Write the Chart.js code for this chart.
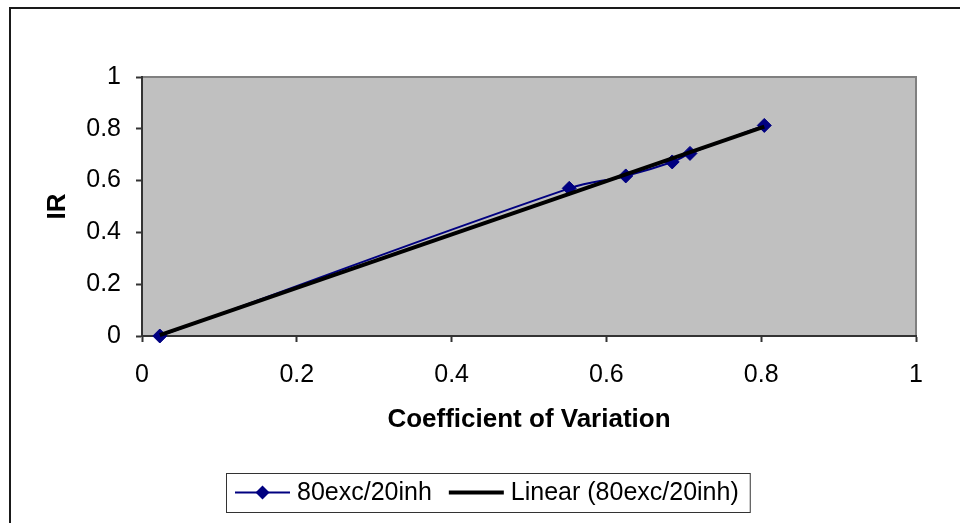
<!DOCTYPE html>
<html>
<head>
<meta charset="utf-8">
<script src="https://cdn.jsdelivr.net/npm/chart.js@4/dist/chart.umd.min.js"></script>
<style>
  html, body { margin: 0; padding: 0; background: #fff; }
  #wrap { width: 960px; height: 523px; position: relative; }
</style>
</head>
<body>
<div id="wrap"><canvas id="c" width="960" height="523"></canvas></div>
<script>
// Series data
const seriesName = '80exc/20inh';
const trendName = 'Linear (80exc/20inh)';
const cvValues = [0.023, 0.552, 0.625, 0.685, 0.708, 0.804];
const irValues = [0, 0.570, 0.618, 0.672, 0.705, 0.813];
// Axis ticks and titles
const xTicks = [0, 0.2, 0.4, 0.6, 0.8, 1];
const yTicks = [0, 0.2, 0.4, 0.6, 0.8, 1];
const xTitle = 'Coefficient of Variation';
const yTitle = 'IR';

const FONT = '"Liberation Sans", Arial, Helvetica, sans-serif';
const SERIES_COLOR = '#000080';
const TREND_COLOR = '#000000';

// Least-squares linear trendline over the series
function linearFit(xs, ys) {
  const n = xs.length;
  const mx = xs.reduce((a, b) => a + b, 0) / n;
  const my = ys.reduce((a, b) => a + b, 0) / n;
  let sxy = 0, sxx = 0;
  for (let i = 0; i < n; i++) {
    sxy += (xs[i] - mx) * (ys[i] - my);
    sxx += (xs[i] - mx) * (xs[i] - mx);
  }
  const slope = sxy / sxx;
  return { slope, intercept: my - slope * mx };
}
const fit = linearFit(cvValues, irValues);
const xMin = Math.min(...cvValues), xMax = Math.max(...cvValues);
const trendPoints = [xMin, xMax].map(x => ({ x, y: fit.intercept + fit.slope * x }));
const seriesPoints = cvValues.map((x, i) => ({ x, y: irValues[i] }));

// Page frame, plot-area fill and border
const framePlugin = {
  id: 'frame',
  beforeDraw(chart) {
    const { ctx, chartArea: a } = chart;
    ctx.save();
    ctx.fillStyle = '#ffffff';
    ctx.fillRect(0, 0, chart.width, chart.height);
    ctx.strokeStyle = '#1a1a1a';
    ctx.lineWidth = 2;
    ctx.strokeRect(10, 8, chart.width + 10, chart.height + 10);
    ctx.fillStyle = '#c0c0c0';
    ctx.fillRect(a.left, a.top, a.right - a.left, a.bottom - a.top);
    ctx.strokeStyle = '#808080';
    ctx.lineWidth = 2;
    ctx.beginPath();
    ctx.moveTo(a.left, a.top);
    ctx.lineTo(a.right, a.top);
    ctx.lineTo(a.right, a.bottom);
    ctx.stroke();
    ctx.restore();
  }
};

// Boxed legend with line + marker samples
const legendPlugin = {
  id: 'boxLegend',
  afterDraw(chart) {
    const ctx = chart.ctx;
    const ds = chart.data.datasets;
    ctx.save();
    ctx.font = '25px ' + FONT;
    const boxL = 226, boxT = 473, boxH = 39;
    const cy = boxT + boxH / 2;
    const padL = 9, padR = 11, sample = 55, gap = 7, itemGap = 17;
    const items = [ds[0], ds[1]].map(d => ({ d, w: ctx.measureText(d.label).width }));
    let total = padL + padR;
    items.forEach((it, i) => { total += sample + gap + it.w + (i ? itemGap : 0); });
    ctx.fillStyle = '#ffffff';
    ctx.fillRect(boxL, boxT, total, boxH);
    ctx.strokeStyle = '#333333';
    ctx.lineWidth = 1;
    ctx.strokeRect(boxL + 0.5, boxT + 0.5, total, boxH);
    let x = boxL + padL;
    items.forEach((it, i) => {
      if (i) x += itemGap;
      ctx.strokeStyle = it.d.borderColor;
      ctx.lineWidth = it.d.borderWidth;
      ctx.beginPath();
      ctx.moveTo(x, cy);
      ctx.lineTo(x + sample, cy);
      ctx.stroke();
      if (it.d.pointRadius > 0) {
        const r = it.d.pointRadius;
        ctx.fillStyle = it.d.backgroundColor;
        ctx.beginPath();
        ctx.moveTo(x + sample / 2, cy - r);
        ctx.lineTo(x + sample / 2 + r, cy);
        ctx.lineTo(x + sample / 2, cy + r);
        ctx.lineTo(x + sample / 2 - r, cy);
        ctx.closePath();
        ctx.fill();
      }
      x += sample + gap;
      ctx.fillStyle = '#000000';
      ctx.textBaseline = 'middle';
      ctx.fillText(it.d.label, x, cy + 1);
      x += it.w;
    });
    ctx.restore();
  }
};

const tickFont = { family: FONT, size: 25 };
const titleFont = { family: FONT, size: 26, weight: 'bold' };

new Chart(document.getElementById('c'), {
  type: 'scatter',
  data: {
    datasets: [
      {
        label: seriesName,
        data: seriesPoints,
        showLine: true,
        borderColor: SERIES_COLOR,
        backgroundColor: SERIES_COLOR,
        borderWidth: 2,
        tension: 0.4,
        pointStyle: 'rectRot',
        pointRadius: 7,
        pointHoverRadius: 7,
        pointBorderWidth: 1,
        clip: false,
        order: 2
      },
      {
        label: trendName,
        data: trendPoints,
        showLine: true,
        borderColor: TREND_COLOR,
        backgroundColor: TREND_COLOR,
        borderWidth: 4,
        tension: 0,
        pointRadius: 0,
        pointHoverRadius: 0,
        clip: false,
        order: 1
      }
    ]
  },
  options: {
    responsive: false,
    devicePixelRatio: 1,
    animation: false,
    events: [],
    layout: { padding: { left: 0, top: 77, right: 44, bottom: 88 } },
    plugins: {
      legend: { display: false },
      tooltip: { enabled: false }
    },
    scales: {
      x: {
        type: 'linear',
        min: 0,
        max: 1,
        afterBuildTicks: s => { s.ticks = xTicks.map(v => ({ value: v })); },
        afterFit: s => { s.height = 99; },
        ticks: { font: tickFont, color: '#000', padding: 18, maxRotation: 0, callback: v => String(v) },
        grid: { drawOnChartArea: false, drawTicks: true, tickLength: 6, tickColor: '#333', tickWidth: 2 },
        border: { display: true, color: '#333', width: 2 },
        title: { display: true, text: xTitle, font: titleFont, color: '#000', padding: { top: 0, bottom: 0 } }
      },
      y: {
        type: 'linear',
        min: 0,
        max: 1,
        afterBuildTicks: s => { s.ticks = yTicks.map(v => ({ value: v })); },
        afterFit: s => { s.width = 142; },
        ticks: { font: tickFont, color: '#000', padding: 15, callback: v => String(v) },
        grid: { drawOnChartArea: false, drawTicks: true, tickLength: 6, tickColor: '#333', tickWidth: 2 },
        border: { display: true, color: '#333', width: 2 },
        title: { display: true, text: yTitle, font: titleFont, color: '#000', padding: { top: 42, bottom: 0 } }
      }
    }
  },
  plugins: [framePlugin, legendPlugin]
});
</script>
</body>
</html>
